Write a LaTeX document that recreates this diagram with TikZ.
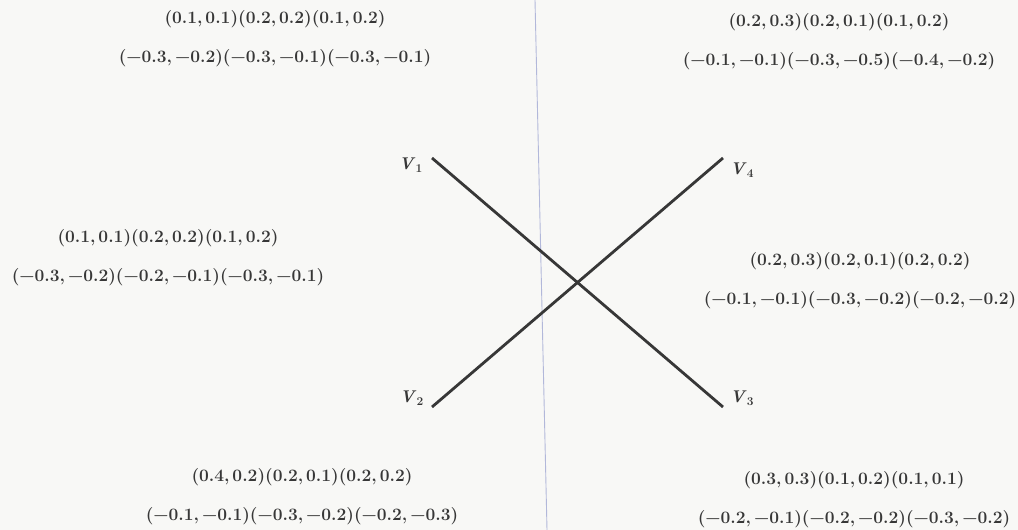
\documentclass[tikz,border=0pt]{standalone}
\usetikzlibrary{positioning}
\definecolor{axisblue}{RGB}{178,184,218}
\definecolor{inkgray}{RGB}{55,55,55}
\definecolor{paper}{RGB}{248,248,246}
\newcommand{\vname}[1]{\textit{V}\textsubscript{#1}}
\tikzset{
	payoff/.style={align=center, text=inkgray, font=\fontsize{17.4}{39}\selectfont\bfseries, inner sep=0pt},
	vlabel/.style={text=inkgray, font=\fontsize{17}{20}\selectfont\bfseries, inner sep=0pt},
	strategy/.style={line width=2.8pt, draw=inkgray}
}

\begin{document}
\begin{tikzpicture}[x=1pt, y=-1pt]
	\fill[paper] (0,0) rectangle (1018,530);
	\useasboundingbox (0,0) rectangle (1018,530);
	% Divider:
	\coordinate (top) at (535,0);
	\coordinate (bottom) at (547,530);
	\draw[axisblue, line width=0.9pt] (top) -- (bottom);
	% Crossing lines:
	\coordinate (v1) at (432,158);
	\coordinate (v2) at (432,407);
	\coordinate (v3) at (723,407);
	\coordinate (v4) at (723,158);
	\draw[strategy] (v1) -- (v3);
	\draw[strategy] (v2) -- (v4);
	\node[vlabel, left=9pt of v1, yshift=-7pt] (lv1) {\vname{1}};
	\node[vlabel, left=8pt of v2, yshift=9pt] (lv2) {\vname{2}};
	\node[vlabel, right=7pt of v3, yshift=9pt] (lv3) {\vname{3}};
	\node[vlabel, right=7pt of v4, yshift=-12pt] (lv4) {\vname{4}};
	% Payoffs:
	\node[payoff] (tl) at (275,39) {(0.1,\,0.1)(0.2,\,0.2)(0.1,\,0.2)\\(−0.3,\,−0.2)(−0.3,\,−0.1)(−0.3,\,−0.1)};
	\node[payoff] (tr) at (839,42) {(0.2,\,0.3)(0.2,\,0.1)(0.1,\,0.2)\\(−0.1,\,−0.1)(−0.3,\,−0.5)(−0.4,\,−0.2)};
	\node[payoff] (ml) at (168,258) {(0.1,\,0.1)(0.2,\,0.2)(0.1,\,0.2)\\(−0.3,\,−0.2)(−0.2,\,−0.1)(−0.3,\,−0.1)};
	\node[payoff] (mr) at (860,281) {(0.2,\,0.3)(0.2,\,0.1)(0.2,\,0.2)\\(−0.1,\,−0.1)(−0.3,\,−0.2)(−0.2,\,−0.2)};
	\node[payoff] (bl) at (302,497) {(0.4,\,0.2)(0.2,\,0.1)(0.2,\,0.2)\\(−0.1,\,−0.1)(−0.3,\,−0.2)(−0.2,\,−0.3)};
	\node[payoff] (br) at (854,500) {(0.3,\,0.3)(0.1,\,0.2)(0.1,\,0.1)\\(−0.2,\,−0.1)(−0.2,\,−0.2)(−0.3,\,−0.2)};
\end{tikzpicture}
\end{document}
